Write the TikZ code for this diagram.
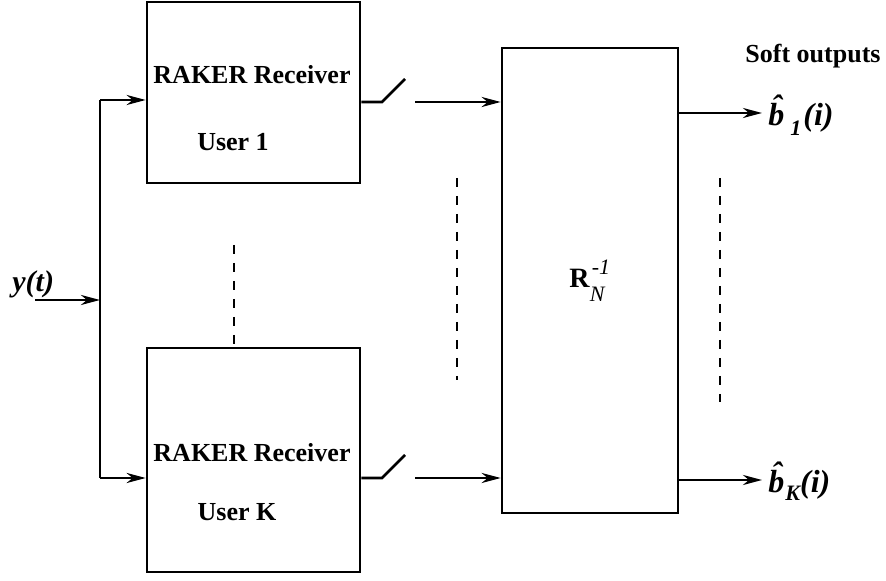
\documentclass[tikz,border=0pt]{standalone}
\usepackage{fontspec}
\setmainfont{Liberation Serif}
\usetikzlibrary{arrows.meta}
\newcommand{\subsz}{\fontsize{11}{12}\selectfont}
\newcommand{\hatb}{\rlap{\hspace{1.5pt}\raisebox{4pt}{\char"02C6}}b}
\begin{document}
\begin{tikzpicture}[x=0.5pt,y=-0.5pt,
  blk/.style={draw,line width=1.3pt,inner sep=0pt},
  wire/.style={line width=1.3pt},
  arr/.style={wire,-{Stealth[length=9.5pt,width=5pt,inset=3pt]}},
  dots/.style={line width=1.3pt,dash pattern=on 4.5pt off 4.5pt},
  lbl/.style={inner sep=0pt,font=\bfseries\fontsize{13}{15}\selectfont},
  mlbl/.style={inner sep=0pt,font=\bfseries\itshape\fontsize{15}{17}\selectfont},
  blbl/.style={inner sep=0pt,anchor=base west,font=\bfseries\itshape\fontsize{16}{18}\selectfont}]
\useasboundingbox (0,0) rectangle (886,581);

% receiver blocks and the decorrelator block
\node[blk,minimum width=106.5pt,minimum height=90.5pt] (r1) at (253.5,92.5) {};
\node[blk,minimum width=106.5pt,minimum height=112pt] (rk) at (253.5,460) {};
\node[blk,minimum width=88pt,minimum height=232.5pt] (rn) at (590,280.5) {};

% block texts
\node[lbl] (t1a) at (252,75) {RAKER Receiver};
\node[lbl] (t1b) at (233,142) {User 1};
\node[lbl] (tka) at (252,453) {RAKER Receiver};
\node[lbl] (tkb) at (237,512) {User K};
\node[inner sep=0pt,anchor=base west,font=\fontsize{14}{16}\selectfont] (rlab) at (569,288)
  {\textbf{R}\rlap{\hspace{1pt}\raisebox{6.5pt}{\subsz\itshape -1}}\raisebox{-7pt}{\subsz\itshape N}};
\node[lbl] (soft) at (813,56) {Soft outputs};

% input and its split to the receivers
\node[mlbl,anchor=base west] (yt) at (12,292) {y(t)};
\coordinate (yin) at (35,300);
\coordinate (split) at (100,300);
\coordinate (stop) at (100,100);
\coordinate (sbot) at (100,478);
\draw[arr] (yin) -- (split);
\draw[wire] (stop) -- (sbot);
\draw[arr] (stop) -- (stop -| r1.west);
\draw[arr] (sbot) -- (sbot -| rk.west);

% sampling switches and inputs to the decorrelator
\coordinate (s1a) at (382,102);
\coordinate (s1b) at (405,79);
\coordinate (s1c) at (415,102);
\draw[wire] (s1a -| r1.east) -- (s1a) -- (s1b);
\draw[arr] (s1c) -- (s1c -| rn.west);
\coordinate (ska) at (382,478);
\coordinate (skb) at (405,455);
\coordinate (skc) at (415,478);
\draw[wire] (ska -| rk.east) -- (ska) -- (skb);
\draw[arr] (skc) -- (skc -| rn.west);

% soft outputs
\coordinate (o1) at (762,113);
\coordinate (ok) at (762,480);
\draw[arr] (o1 -| rn.east) -- (o1);
\draw[arr] (ok -| rn.east) -- (ok);
\node[blbl] (b1) at (768,126)
  {\hatb\hspace{3pt}\raisebox{-5pt}{\subsz 1}\hspace{1pt}(i)};
\node[blbl] (bk) at (768,492)
  {\hatb\hspace{0.5pt}\raisebox{-4pt}{\subsz K}(i)};

% continuation marks
\coordinate (d1a) at (234,245);
\coordinate (d1b) at (234,345);
\coordinate (d2a) at (457,178);
\coordinate (d2b) at (457,380);
\coordinate (d3a) at (720,178);
\coordinate (d3b) at (720,402);
\draw[dots] (d1a) -- (d1b);
\draw[dots] (d2a) -- (d2b);
\draw[dots] (d3a) -- (d3b);
\end{tikzpicture}
\end{document}
